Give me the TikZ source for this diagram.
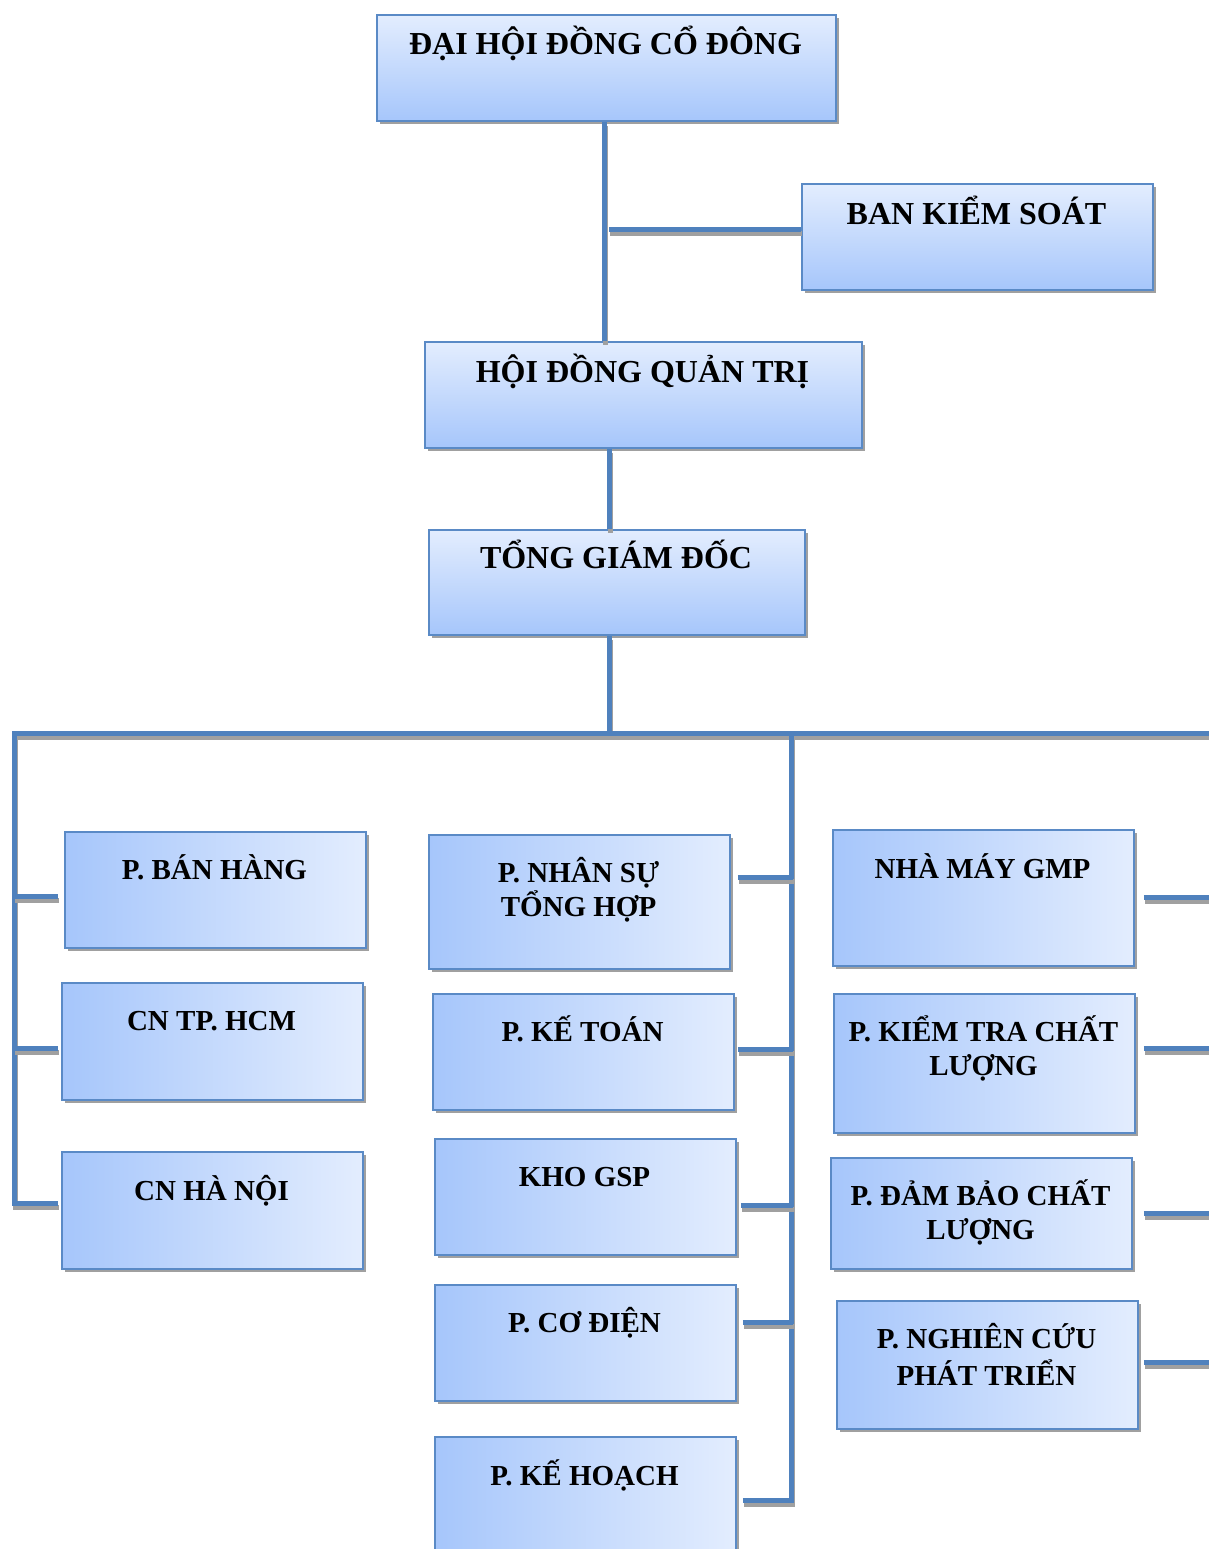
\documentclass[tikz,border=0pt]{standalone}
\usepackage{fontspec}
\setmainfont{Liberation Serif}
\usetikzlibrary{calc}
\definecolor{linkblue}{HTML}{4F81BD}
\definecolor{boxedge}{HTML}{5A8AC6}
\definecolor{lightb}{HTML}{E3EDFE}
\definecolor{darkb}{HTML}{A6C6FB}
\definecolor{shadowg}{HTML}{A0A0A0}
\tikzset{
  conn/.style={draw=linkblue, line width=5pt,
    preaction={draw=shadowg, line width=5pt, transform canvas={xshift=1pt,yshift=-4pt}}},
  basebox/.style={rectangle, draw=boxedge, line width=1.8pt, anchor=north west, inner sep=0pt,
    preaction={fill=shadowg, transform canvas={xshift=3pt,yshift=-3pt}}},
  vbox/.style={basebox, top color=lightb, bottom color=darkb},
  hbox/.style={basebox, left color=darkb, right color=lightb},
  toptxt/.style={anchor=base, inner sep=0pt, align=center, font=\fontsize{32}{38}\selectfont\bfseries},
  lowtxt/.style={anchor=base, inner sep=0pt, align=center, font=\fontsize{29}{34}\selectfont\bfseries},
}
\begin{document}
\begin{tikzpicture}[x=1pt,y=-1pt]
\useasboundingbox (0,0) rectangle (1208,1549);
% boxes
\node[vbox, minimum width=459pt, minimum height=106pt] (dh) at (376,14) {};
\node[vbox, minimum width=351pt, minimum height=106pt] (bks) at (801,183) {};
\node[vbox, minimum width=437pt, minimum height=106pt] (hdqt) at (424,341) {};
\node[vbox, minimum width=376pt, minimum height=105pt] (tgd) at (428,529) {};
\node[hbox, minimum width=301pt, minimum height=116pt] (bh) at (64,831) {};
\node[hbox, minimum width=301pt, minimum height=117pt] (hcm) at (61,982) {};
\node[hbox, minimum width=301pt, minimum height=117pt] (hn) at (61,1151) {};
\node[hbox, minimum width=301pt, minimum height=134pt] (ns) at (428,834) {};
\node[hbox, minimum width=301pt, minimum height=116pt] (kt) at (432,993) {};
\node[hbox, minimum width=301pt, minimum height=116pt] (kho) at (434,1138) {};
\node[hbox, minimum width=301pt, minimum height=116pt] (cd) at (434,1284) {};
\node[hbox, minimum width=301pt, minimum height=124pt] (kh) at (434,1436) {};
\node[hbox, minimum width=301pt, minimum height=136pt] (gmp) at (832,829) {};
\node[hbox, minimum width=301pt, minimum height=139pt] (ktcl) at (833,993) {};
\node[hbox, minimum width=301pt, minimum height=111pt] (dbcl) at (830,1157) {};
\node[hbox, minimum width=301pt, minimum height=128pt] (nc) at (836,1300) {};
% labels (multi-line: base = last line)
\node[toptxt] (dht) at (605.5,55) {ĐẠI HỘI ĐỒNG CỔ ĐÔNG};
\node[toptxt] (bkst) at (976.5,224) {BAN KIỂM SOÁT};
\node[toptxt] (hdqtt) at (642.5,382) {HỘI ĐỒNG QUẢN TRỊ};
\node[toptxt] (tgdt) at (616,568) {TỔNG GIÁM ĐỐC};
\node[lowtxt] (bht) at (214.5,879) {P. BÁN HÀNG};
\node[lowtxt] (hcmt) at (211.5,1030) {CN TP. HCM};
\node[lowtxt] (hnt) at (211.5,1200) {CN HÀ NỘI};
\node[lowtxt] (nst) at (578.5,916) {P. NHÂN SỰ\\TỔNG HỢP};
\node[lowtxt] (ktt) at (582.5,1041) {P. KẾ TOÁN};
\node[lowtxt] (khot) at (584.5,1186) {KHO GSP};
\node[lowtxt] (cdt) at (584.5,1332) {P. CƠ ĐIỆN};
\node[lowtxt] (kht) at (584.5,1485) {P. KẾ HOẠCH};
\node[lowtxt] (gmpt) at (982.5,878) {NHÀ MÁY GMP};
\node[lowtxt] (ktclt) at (983.5,1075) {P. KIỂM TRA CHẤT\\LƯỢNG};
\node[lowtxt] (dbclt) at (980.5,1239) {P. ĐẢM BẢO CHẤT\\LƯỢNG};
\node[lowtxt] (nct) at (986.5,1385) {P. NGHIÊN CỨU\\[3pt]PHÁT TRIỂN};
% connectors
\coordinate (sp1) at ([xshift=-1.5pt]dh.south);
\coordinate (sp2) at ([xshift=-33.5pt]hdqt.south);
\coordinate (sp3) at ([xshift=-7pt]tgd.south);
\coordinate (busL) at (14,733);
\coordinate (busM) at (791,733);
\coordinate (busR) at (1214,733);
\draw[conn] (sp1) -- (sp1 |- hdqt.north);
\draw[conn] ([yshift=7pt]bks.west) -- ++(-192,0);
\draw[conn] (sp2) -- (sp2 |- tgd.north);
\draw[conn] (sp3) -- (sp3 |- busM);
\draw[conn] ([xshift=-3pt,yshift=6.5pt]hn.west) -| (busL) -- (busR);
\draw[conn] ([xshift=-6pt,yshift=-7pt]bh.west) -- ++(-44,0);
\draw[conn] ([xshift=-3pt,yshift=-7.5pt]hcm.west) -- ++(-44,0);
\draw[conn] ([xshift=6pt,yshift=-64pt]kh.north east) -| (busM);
\draw[conn] ([xshift=7pt,yshift=24pt]ns.east) -- ++(55,0);
\draw[conn] ([xshift=3pt,yshift=2pt]kt.east) -- ++(55,0);
\draw[conn] ([xshift=4pt,yshift=-9pt]kho.east) -- ++(52,0);
\draw[conn] ([xshift=6pt,yshift=20pt]cd.east) -- ++(50,0);
\draw[conn] ([xshift=9pt]gmp.east) -- ++(80,0);
\draw[conn] ([xshift=8pt,yshift=14.5pt]ktcl.east) -- ++(80,0);
\draw[conn] ([xshift=11pt]dbcl.east) -- ++(80,0);
\draw[conn] ([xshift=5pt,yshift=2pt]nc.east) -- ++(80,0);
\end{tikzpicture}
\end{document}
